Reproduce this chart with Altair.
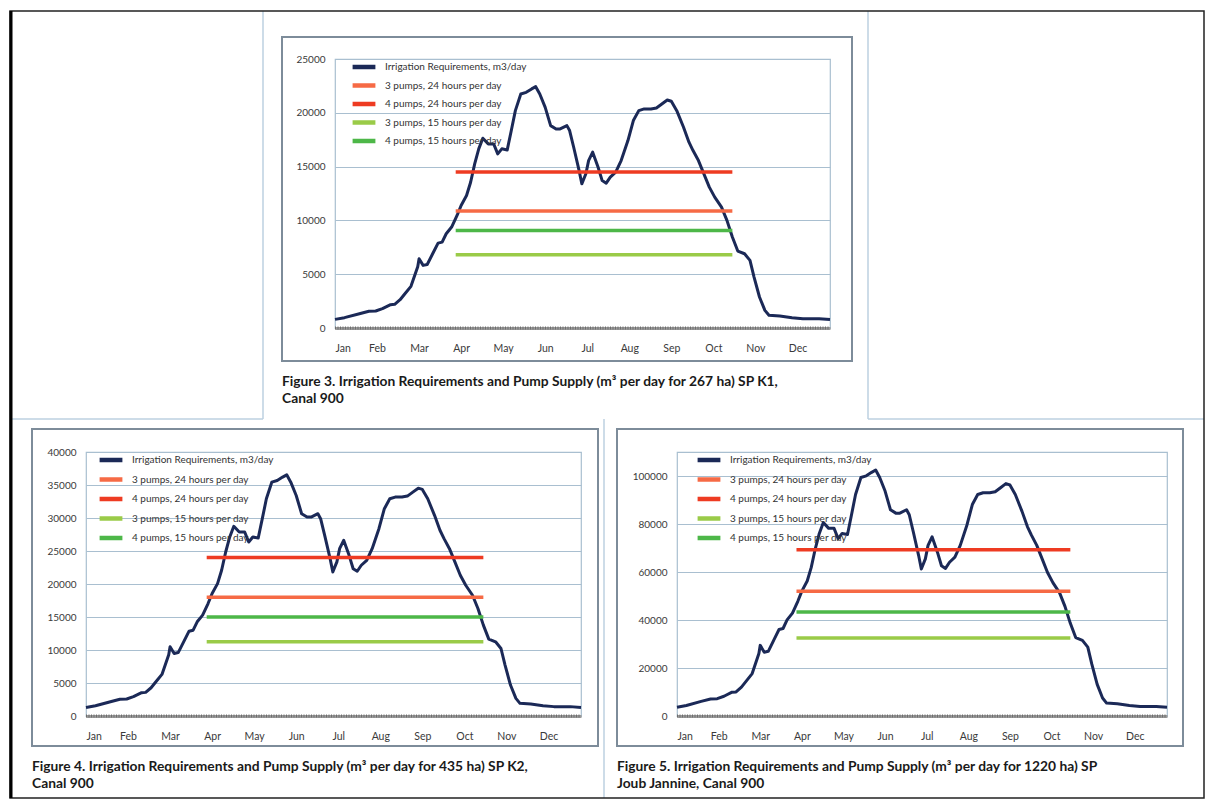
import altair as alt
import pandas as pd

# ---------------- data ----------------
MONTHS = ["Jan", "Feb", "Mar", "Apr", "May", "Jun", "Jul", "Aug", "Sep", "Oct", "Nov", "Dec"]
MONTH_TICKS = [0, 31, 62, 93, 124, 155, 186, 217, 248, 279, 310, 341]

SERIES = [
    "Irrigation Requirements, m3/day",
    "3 pumps, 24 hours per day",
    "4 pumps, 24 hours per day",
    "3 pumps, 15 hours per day",
    "4 pumps, 15 hours per day",
]
COLORS = ["#1b2957", "#f66a45", "#ee3b22", "#9acb48", "#4db748"]

DAYS = [0, 7, 18, 25, 30, 35, 41, 44, 48, 52, 56, 61, 62, 65, 68, 72, 76, 79, 82, 86,
        90, 93, 97, 100, 103, 106, 109, 113, 117, 120, 123, 127, 130, 133, 137, 141, 145, 148, 151, 155,
        159, 163, 166, 171, 173, 176, 180, 182, 185, 187, 190, 194, 197, 200, 203, 207, 211, 216, 220, 224,
        228, 233, 237, 241, 245, 248, 252, 257, 261, 264, 268, 272, 276, 280, 285, 289, 293, 297, 302, 306,
        309, 313, 317, 320, 328, 337, 345, 357, 365]

REQ_K1 = [800, 960, 1330, 1550, 1580, 1800, 2170, 2200, 2630, 3250, 3870, 5700, 6440, 5820, 5900, 6900, 7890, 7980, 8760, 9380,
          10460, 11390, 12310, 13550, 15250, 16650, 17640, 17110, 17110, 16180, 16650, 16550, 18350, 20200, 21750, 21900, 22220, 22430, 21750, 20510,
          18810, 18500, 18500, 18810, 18350, 16800, 14630, 13400, 14330, 15560, 16340, 14940, 13700, 13460, 14020, 14480, 15560, 17420, 19280, 20200,
          20360, 20360, 20450, 20820, 21190, 21070, 20200, 18660, 17270, 16490, 15560, 14330, 13090, 12160, 11230, 10000, 8450, 7150, 6900, 6280,
          4730, 2880, 1640, 1180, 1110, 960, 870, 870, 800]

REQ_K2 = [1300, 1560, 2170, 2530, 2570, 2930, 3540, 3580, 4280, 5300, 6300, 9290, 10490, 9480, 9610, 11240, 12850, 13000, 14270, 15280,
          17040, 18560, 20060, 22080, 24850, 27130, 28740, 27880, 27880, 26360, 27130, 26960, 29900, 32910, 35430, 35680, 36200, 36540, 35430, 33410,
          30650, 30140, 30140, 30650, 29900, 27370, 23840, 21830, 23350, 25350, 26620, 24340, 22320, 21930, 22840, 23590, 25350, 28380, 31410, 32910,
          33170, 33170, 33320, 33920, 34520, 34330, 32910, 30400, 28140, 26870, 25350, 23350, 21330, 19810, 18300, 16290, 13770, 11650, 11240, 10230,
          7710, 4690, 2670, 1920, 1810, 1560, 1420, 1420, 1300]

REQ_JJ = [3660, 4390, 6080, 7080, 7220, 8220, 9920, 10050, 12020, 14850, 17680, 26050, 29430, 26590, 26960, 31530, 36050, 36460, 40030, 42860,
          47790, 52040, 56250, 61910, 69680, 76080, 80600, 78180, 78180, 73930, 76080, 75620, 83850, 92300, 99380, 100070, 101530, 102490, 99380, 93720,
          85950, 84530, 84530, 85950, 83850, 76760, 66850, 61230, 65480, 71100, 74660, 68270, 62600, 61500, 64060, 66160, 71100, 79600, 88100, 92300,
          93030, 93030, 93440, 95130, 96820, 96270, 92300, 85260, 78910, 75350, 71100, 65480, 59810, 55560, 51310, 45690, 38610, 32670, 31530, 28700,
          21610, 13160, 7490, 5390, 5070, 4390, 3980, 3980, 3660]

PUMP_DAYS = [89, 293]
# order: 3p/24h, 4p/24h, 3p/15h, 4p/15h
PUMPS_K1 = [10880, 14500, 6800, 9060]
PUMPS_K2 = [18000, 24000, 11250, 15000]
PUMPS_JJ = [51980, 69300, 32480, 43300]

Y_MAX = [25000, 40000, 110000]
Y_TICKS = [[0, 5000, 10000, 15000, 20000, 25000],
           [0, 5000, 10000, 15000, 20000, 25000, 30000, 35000, 40000],
           [0, 20000, 40000, 60000, 80000, 100000]]

CAPTIONS = [
    ["Figure 3.  Irrigation Requirements and Pump Supply (m\u00b3 per day for 267 ha) SP K1,", "Canal 900"],
    ["Figure 4.  Irrigation Requirements and Pump Supply (m\u00b3 per day for 435 ha) SP K2,", "Canal 900"],
    ["Figure 5.  Irrigation Requirements and Pump Supply (m\u00b3 per day for 1220 ha) SP", "Joub Jannine, Canal 900"],
]

FONT = "Lato"
GRID = "#a9bfd0"
FRAME = "#7d8c9a"
LIGHT = "#bcd0e0"

month_js = "[" + ",".join("'%s'" % m for m in MONTHS) + "]"
label_expr = month_js + "[round(datum.value / 31)]"

one = pd.DataFrame({"k": [0]})


def deco_rect(x, y, x2, y2, color, width):
    return alt.Chart(one).mark_rect(fillOpacity=0, stroke=color, strokeWidth=width).encode(
        x=alt.value(x), x2=alt.value(x2), y=alt.value(y), y2=alt.value(y2))


def deco_hline(x, x2, y, color, width):
    return alt.Chart(one).mark_rule(color=color, strokeWidth=width).encode(
        x=alt.value(x), x2=alt.value(x2), y=alt.value(y))


def deco_vline(x, y, y2, color, width):
    return alt.Chart(one).mark_rule(color=color, strokeWidth=width).encode(
        x=alt.value(x), y=alt.value(y), y2=alt.value(y2))


def panel(req, pumps, ymax, yticks, caption, w, h, leg, frame, extras=()):
    req_df = pd.DataFrame({"day": DAYS, "value": req, "series": SERIES[0]})
    rows = []
    for name, v in zip(SERIES[1:], pumps):
        for d in PUMP_DAYS:
            rows.append({"day": d, "value": v, "series": name})
    pump_df = pd.DataFrame(rows)

    x = alt.X("day:Q", scale=alt.Scale(domain=[0, 365], nice=False, zero=False),
              axis=alt.Axis(values=MONTH_TICKS, labelExpr=label_expr, title=None, grid=False,
                            ticks=False, domain=True, domainColor="#9a9a9a", domainWidth=3,
                            labelPadding=15, labelFontSize=10.5, labelColor="#3a3a3a",
                            labelFont=FONT, labelOverlap=False))
    y = alt.Y("value:Q", scale=alt.Scale(domain=[0, ymax], nice=False),
              axis=alt.Axis(values=yticks, format="d", title=None, ticks=False, domain=False,
                            gridColor=GRID, gridWidth=1.2, labelPadding=10, labelFontSize=10,
                            labelColor="#3a3a3a", labelFont=FONT))
    color = alt.Color("series:N", scale=alt.Scale(domain=SERIES, range=COLORS),
                      legend=alt.Legend(title=None, orient="none", legendX=leg[0], legendY=leg[1],
                                        symbolType="stroke", symbolSize=520, symbolStrokeWidth=4.5,
                                        clipHeight=10, rowPadding=leg[2], padding=0,
                                        labelFont=FONT, labelFontSize=10, labelColor="#333333",
                                        labelOffset=7))

    fx, fy, fx2, fy2 = frame
    frame_layer = deco_rect(fx, fy, fx2, fy2, FRAME, 2)
    req_line = alt.Chart(req_df).mark_line(strokeWidth=3, strokeJoin="round").encode(
        x=x, y=y, color=color)
    pump_lines = alt.Chart(pump_df).mark_line(strokeWidth=3.5).encode(
        x=x, y=y, color=color, detail="series:N")
    baseline = alt.Chart(one).mark_rule(color="#6e6e6e", strokeWidth=3, strokeDash=[1, 1.5]).encode(
        x=alt.value(0), x2=alt.value(w), y=alt.value(h))
    cap = alt.Chart(one).mark_text(text=caption, align="left", baseline="alphabetic", lineHeight=17,
                                   font=FONT, fontSize=13.8, fontWeight="bold", color="#1a1a1a").encode(
        x=alt.value(fx), y=alt.value(fy2 + 25))
    layers = [frame_layer, *extras, req_line, pump_lines, baseline, cap]
    return alt.layer(*layers).properties(width=w, height=h)


# decorations of the page (borders) drawn with the top panel, relative to its plot origin
top_extras = [
    deco_hline(-325, -72, 360, LIGHT, 1.5),
    deco_hline(533, 869, 360, LIGHT, 1.5),
    deco_vline(-72, -48, 360, LIGHT, 1.5),
    deco_vline(533, -48, 360, LIGHT, 1.5),
    deco_vline(269, 360, 739, LIGHT, 1.5),
    deco_rect(-325, -48, 869, 739, "#222222", 1.5),
    deco_vline(-324, -48, 739, "#000000", 3),
]

A = panel(REQ_K1, PUMPS_K1, Y_MAX[0], Y_TICKS[0], CAPTIONS[0], 495, 269,
          (15, 3, 8.5), (-53, -22, 517, 302), top_extras)
B = panel(REQ_K2, PUMPS_K2, Y_MAX[1], Y_TICKS[1], CAPTIONS[1], 495, 264,
          (11, 3, 9.5), (-54, -23, 512, 294))
C = panel(REQ_JJ, PUMPS_JJ, Y_MAX[2], Y_TICKS[2], CAPTIONS[2], 490, 264,
          (18, 3, 9.5), (-60, -23, 506, 294))

spacer = alt.Chart(one).mark_text(text=" ", opacity=0).properties(
    width=239, height=269, view=alt.ViewBackground(strokeOpacity=0))

top_row = alt.hconcat(spacer, A, spacing=10, bounds="flush").resolve_scale(
    x="independent", y="independent", color="independent").resolve_legend(color="independent")
bottom_row = alt.hconcat(B, C, spacing=96, bounds="flush").resolve_scale(
    x="independent", y="independent", color="independent").resolve_legend(color="independent")

chart = alt.vconcat(top_row, bottom_row, spacing=393, bounds="flush").resolve_scale(
    x="independent", y="independent", color="independent").resolve_legend(
    color="independent").properties(
    padding={"left": 0, "top": 0, "right": 0, "bottom": 0}, background="white"
).configure_view(stroke=GRID, strokeWidth=1.2)

chart.save("out.html", embed_options={"renderer": "svg", "actions": False})
